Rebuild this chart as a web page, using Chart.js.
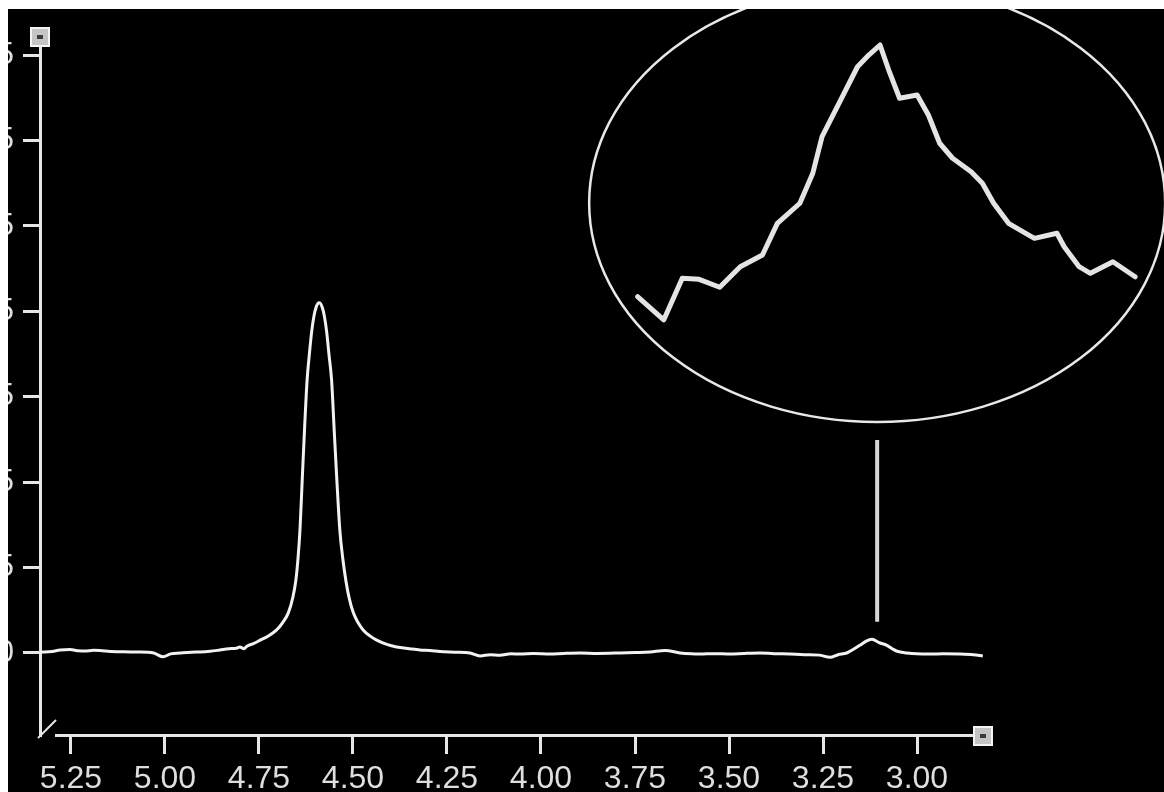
<!DOCTYPE html>
<html>
<head>
<meta charset="utf-8">
<script src="https://cdn.jsdelivr.net/npm/chart.js@4.4.1/dist/chart.umd.min.js"></script>
<style>
  html, body { margin: 0; padding: 0; background: #fff; width: 1164px; height: 792px; overflow: hidden; }
  #main  { position: absolute; left: 8px; top: 9px; width: 1156px; height: 783px; background: #000; }
  #inset { position: absolute; left: 620px; top: 30px; width: 530px; height: 300px; }
</style>
</head>
<body>
<div id="main"><canvas id="spec"></canvas></div>
<div id="inset"><canvas id="zoom"></canvas></div>
<script>
// 1H spectrum trace: chemical shift (ppm) and intensity
const shiftPpm = [
  5.332, 5.300, 5.279, 5.253, 5.230, 5.213, 5.190, 5.173, 5.145, 5.120,
  5.090, 5.066, 5.030, 5.005, 4.985, 4.960, 4.930, 4.907, 4.880, 4.854,
  4.830, 4.810, 4.801, 4.790, 4.782, 4.765, 4.747, 4.725, 4.703, 4.688,
  4.672, 4.660, 4.652, 4.646, 4.641, 4.635, 4.629, 4.622, 4.616, 4.610,
  4.604, 4.598, 4.590, 4.582, 4.576, 4.570, 4.564, 4.557, 4.550, 4.543,
  4.535, 4.527, 4.519, 4.510, 4.499, 4.487, 4.473, 4.455, 4.437, 4.410,
  4.384, 4.350, 4.322, 4.295, 4.269, 4.230, 4.189, 4.162, 4.135, 4.109,
  4.080, 4.056, 4.020, 3.976, 3.940, 3.896, 3.850, 3.790, 3.750, 3.710,
  3.670, 3.630, 3.600, 3.577, 3.540, 3.497, 3.460, 3.418, 3.380, 3.338,
  3.300, 3.285, 3.260, 3.231, 3.210, 3.187, 3.170, 3.152, 3.135, 3.120,
  3.100, 3.080, 3.066, 3.053, 3.027, 3.000, 2.966, 2.930, 2.886, 2.850,
  2.825
];
const intensity = [
  0.010, 0.018, 0.035, 0.040, 0.025, 0.022, 0.032, 0.030, 0.018, 0.015,
  0.012, 0.012, 0.000, -0.045, -0.010, 0.000, 0.010, 0.012, 0.020, 0.035,
  0.050, 0.055, 0.070, 0.050, 0.080, 0.110, 0.150, 0.200, 0.270, 0.350,
  0.470, 0.650, 0.850, 1.120, 1.440, 2.030, 2.610, 3.200, 3.500, 3.760,
  3.940, 4.050, 4.100, 4.050, 3.940, 3.760, 3.500, 3.200, 2.610, 2.030,
  1.440, 1.100, 0.850, 0.640, 0.470, 0.360, 0.270, 0.200, 0.150, 0.100,
  0.070, 0.050, 0.035, 0.030, 0.018, 0.010, 0.000, -0.035, -0.020, -0.025,
  -0.010, -0.012, -0.005, -0.012, -0.005, 0.000, -0.005, 0.000, 0.005, 0.012,
  0.030, 0.000, -0.010, -0.012, -0.008, -0.012, -0.005, 0.000, -0.008, -0.012,
  -0.020, -0.020, -0.025, -0.050, -0.020, 0.000, 0.040, 0.090, 0.140, 0.160,
  0.120, 0.090, 0.050, 0.020, 0.000, -0.010, -0.012, -0.010, -0.012, -0.020,
  -0.035
];

// Axis ticks
const xTickValues = [5.25, 5.00, 4.75, 4.50, 4.25, 4.00, 3.75, 3.50, 3.25, 3.00];
const xTickLabels = ['5.25', '5.00', '4.75', '4.50', '4.25', '4.00', '3.75', '3.50', '3.25', '3.00'];
const yTickValues = [0, 1, 2, 3, 4, 5, 6, 7];
const yTickLabels = ['0', '1e5', '2e5', '3e5', '4e5', '5e5', '6e5', '7e5'];

// Leader from the small signal up to the magnified view
const markerPpm = [3.106, 3.106];
const markerIntensity = [0.367, 2.494];

// Magnified view of the signal near 3.12 ppm
const insetPpm = [
  3.1947, 3.1868, 3.1812, 3.1761, 3.1699, 3.1637, 3.1570, 3.1525, 3.1457, 3.1418,
  3.1390, 3.1334, 3.1283, 3.1249, 3.1215, 3.1187, 3.1156, 3.1103, 3.1069, 3.1035,
  3.0996, 3.0940, 3.0906, 3.0872, 3.0827, 3.0749, 3.0681, 3.0659, 3.0614, 3.0580,
  3.0512, 3.0445
];
const insetIntensity = [
  0.0222, 0.0067, 0.0345, 0.0338, 0.0285, 0.0422, 0.0500, 0.0711, 0.0845, 0.1045,
  0.1289, 0.1533, 0.1755, 0.1833, 0.1900, 0.1722, 0.1545, 0.1567, 0.1433, 0.1245,
  0.1145, 0.1055, 0.0978, 0.0845, 0.0711, 0.0611, 0.0645, 0.0555, 0.0422, 0.0378,
  0.0455, 0.0355
];

const toPoints = (xs, ys) => xs.map((x, i) => ({ x: x, y: ys[i] }));
const FONT = '"Liberation Sans", Arial, Helvetica, sans-serif';
const AXIS = '#e6e6e6';

// Axis end boxes, offset x-axis line, corner mark and the ellipse framing the zoom
const decor = {
  id: 'decor',
  beforeDatasetsDraw(chart) {
    const ctx = chart.ctx, ca = chart.chartArea;
    const cx = chart.scales.x.getPixelForValue(markerPpm[0]);
    ctx.save();
    ctx.strokeStyle = '#e8e8e8';
    ctx.lineWidth = 2.5;
    ctx.beginPath();
    ctx.ellipse(cx, ca.top + 166, 288, 219, 0, 0, Math.PI * 2);
    ctx.stroke();
    ctx.restore();
  },
  afterDraw(chart) {
    const ctx = chart.ctx, ca = chart.chartArea;
    ctx.save();
    // x axis line, starting a little right of the y axis
    ctx.strokeStyle = AXIS;
    ctx.lineWidth = 3;
    ctx.beginPath();
    ctx.moveTo(ca.left + 15, ca.bottom - 0.5);
    ctx.lineTo(ca.right, ca.bottom - 0.5);
    ctx.stroke();
    // small diagonal at the origin corner
    ctx.lineWidth = 2;
    ctx.beginPath();
    ctx.moveTo(ca.left - 2, ca.bottom + 2);
    ctx.lineTo(ca.left + 16, ca.bottom - 16);
    ctx.stroke();
    // end boxes
    const box = (x, y) => {
      ctx.fillStyle = '#c4c4c4';
      ctx.fillRect(x - 9, y - 9, 18, 18);
      ctx.strokeStyle = '#f4f4f4';
      ctx.lineWidth = 2;
      ctx.strokeRect(x - 9, y - 9, 18, 18);
      ctx.fillStyle = '#3a3a3a';
      ctx.fillRect(x - 3, y - 2, 6, 4);
    };
    box(ca.left, ca.top);
    box(ca.right, ca.bottom);
    ctx.restore();
  }
};

new Chart(document.getElementById('spec'), {
  type: 'line',
  data: {
    datasets: [
      {
        data: toPoints(shiftPpm, intensity),
        borderColor: '#f2f2f2',
        borderWidth: 3,
        pointRadius: 0,
        cubicInterpolationMode: 'monotone',
        borderJoinStyle: 'round'
      },
      {
        data: toPoints(markerPpm, markerIntensity),
        borderColor: '#d8d8d8',
        borderWidth: 4,
        pointRadius: 0,
        borderCapStyle: 'butt'
      }
    ]
  },
  options: {
    responsive: true,
    maintainAspectRatio: false,
    devicePixelRatio: 1,
    animation: false,
    events: [],
    layout: { autoPadding: false, padding: { left: 0, right: 181, top: 28, bottom: 0 } },
    plugins: { legend: { display: false }, tooltip: { enabled: false } },
    scales: {
      x: {
        type: 'linear',
        reverse: true,
        min: 2.8245,
        max: 5.3324,
        bounds: 'data',
        afterBuildTicks: s => { s.ticks = xTickValues.map(v => ({ value: v })); },
        afterFit: s => { s.height = 56; },
        border: { display: false },
        grid: { drawOnChartArea: false, drawTicks: true, tickLength: 18, tickWidth: 3, tickColor: AXIS, color: AXIS },
        ticks: {
          autoSkip: false,
          maxRotation: 0,
          padding: 6,
          color: '#dedede',
          font: { family: FONT, size: 32, lineHeight: 1.2 },
          callback: (v, i) => xTickLabels[i]
        }
      },
      y: {
        type: 'linear',
        min: -0.972,
        max: 7.213,
        bounds: 'data',
        afterBuildTicks: s => { s.ticks = yTickValues.map(v => ({ value: v })); },
        afterFit: s => { s.width = 32; },
        border: { display: true, color: AXIS, width: 3 },
        grid: { drawOnChartArea: false, drawTicks: true, tickLength: 17, tickWidth: 3, tickColor: AXIS, color: AXIS },
        ticks: {
          autoSkip: false,
          padding: 9,
          color: '#dedede',
          font: { family: FONT, size: 31, lineHeight: 1.2 },
          callback: (v, i) => yTickLabels[i]
        }
      }
    }
  },
  plugins: [decor]
});

new Chart(document.getElementById('zoom'), {
  type: 'line',
  data: {
    datasets: [{
      data: toPoints(insetPpm, insetIntensity),
      borderColor: '#e4e4e4',
      borderWidth: 5,
      pointRadius: 0,
      tension: 0,
      borderJoinStyle: 'round',
      borderCapStyle: 'round',
      clip: false
    }]
  },
  options: {
    responsive: true,
    maintainAspectRatio: false,
    devicePixelRatio: 1,
    animation: false,
    events: [],
    layout: { autoPadding: false, padding: 0 },
    plugins: { legend: { display: false }, tooltip: { enabled: false } },
    scales: {
      x: { type: 'linear', reverse: true, min: 3.04, max: 3.20, display: false },
      y: { type: 'linear', min: 0, max: 0.2, display: false }
    }
  }
});
</script>
</body>
</html>
